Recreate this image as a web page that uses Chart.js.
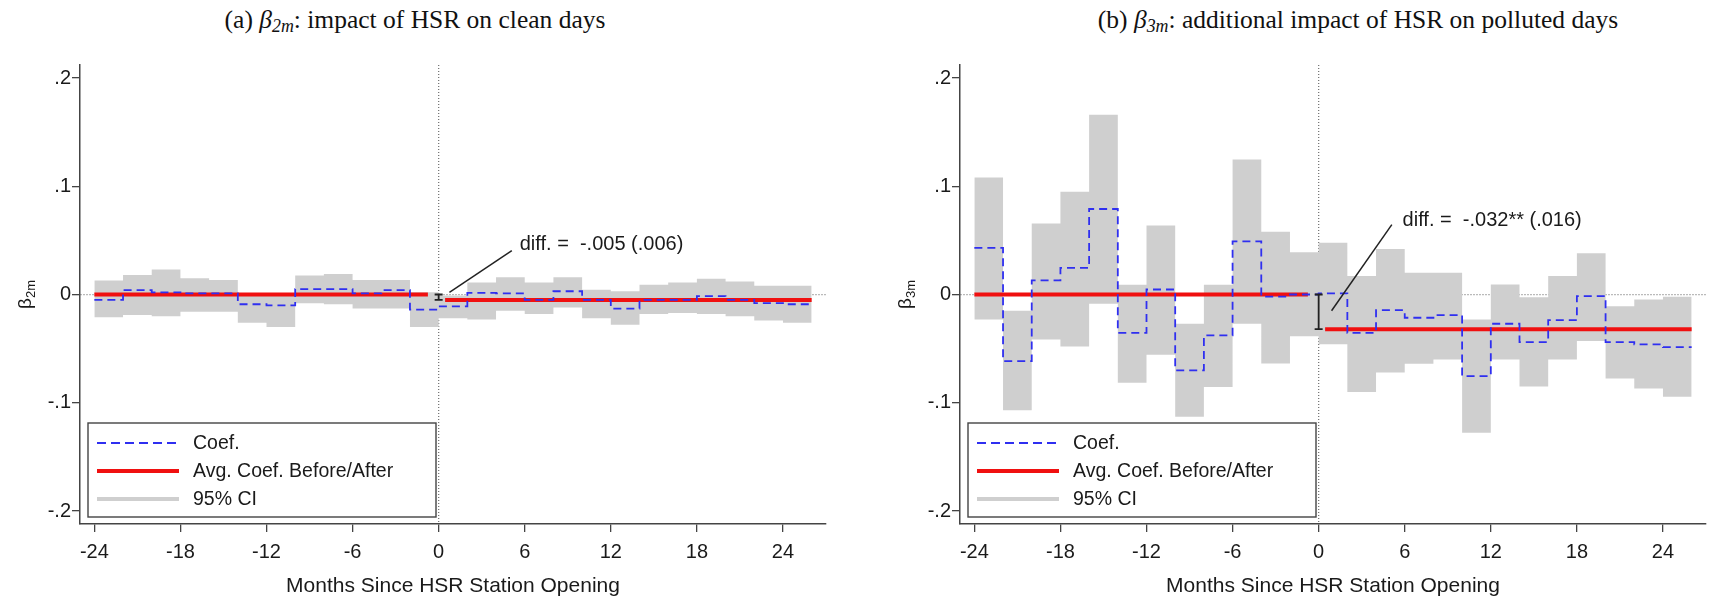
<!DOCTYPE html>
<html>
<head>
<meta charset="utf-8">
<script src="https://cdn.jsdelivr.net/npm/chart.js@4/dist/chart.umd.min.js"></script>
<style>
  body { margin: 0; background: #fff; width: 1711px; height: 601px; position: relative; overflow: hidden; }
  canvas { position: absolute; top: 0; }
  .ttl { position: absolute; top: 6px; transform: translateX(-50%); white-space: nowrap;
         font-family: "Liberation Serif", "Times New Roman", serif; font-size: 25.5px; line-height: 28px; color: #111; }
  .ttl sub { font-size: 70%; vertical-align: -4px; line-height: 0; }
</style>
</head>
<body>
<div class="ttl" style="left:415px">(a) <i>β</i><sub><i>2m</i></sub>: impact of HSR on clean days</div>
<div class="ttl" style="left:1358px">(b) <i>β</i><sub><i>3m</i></sub>: additional impact of HSR on polluted days</div>
<canvas id="chartA" width="860" height="601" style="left:0"></canvas>
<canvas id="chartB" width="831" height="601" style="left:880px"></canvas>
<script>
// bins are 2 months wide, value holds from binStart to next start
var binStart = [-24,-22,-20,-18,-16,-14,-12,-10,-8,-6,-4,-2,0,2,4,6,8,10,12,14,16,18,20,22,24];
var binEnd = 26;
var xTicks = [-24,-18,-12,-6,0,6,12,18,24];
var yTicks = [-0.2,-0.1,0,0.1,0.2];
var yTickLabels = ['-.2','-.1','0','.1','.2'];
var legendLabels = ['Coef.', 'Avg. Coef. Before/After', '95% CI'];

// (a) clean days
var coefClean = [-0.005,0.004,0.002,0.001,0.001,-0.009,-0.010,0.005,0.005,0.001,0.004,-0.014,
                 -0.011,0.0015,0.001,-0.005,0.003,-0.005,-0.013,-0.005,-0.005,-0.0015,-0.005,-0.008,-0.009];
var hiClean   = [0.013,0.018,0.023,0.015,0.0135,0.001,-0.001,0.0175,0.019,0.0135,0.0135,0.002,
                 -0.001,0.011,0.016,0.011,0.016,0.0045,0.003,0.009,0.011,0.0145,0.012,0.008,0.008];
var loClean   = [-0.021,-0.019,-0.020,-0.016,-0.016,-0.026,-0.030,-0.008,-0.009,-0.013,-0.013,-0.030,
                 -0.022,-0.023,-0.015,-0.018,-0.012,-0.022,-0.028,-0.018,-0.017,-0.018,-0.020,-0.024,-0.026];
var avgClean = [0, -0.005];
var diffClean = 'diff. =  -.005 (.006)';

// (b) polluted days
var coefPolluted = [0.043,-0.0615,0.013,0.0246,0.079,-0.0354,0.0046,-0.070,-0.0378,0.049,-0.002,0.0,
                    0.001,-0.0354,-0.0145,-0.0215,-0.019,-0.0754,-0.027,-0.044,-0.0237,-0.0015,-0.044,-0.046,-0.0486];
var hiPolluted   = [0.108,-0.015,0.0655,0.095,0.166,0.009,0.0637,-0.027,0.009,0.1246,0.058,0.039,
                    0.0477,0.017,0.042,0.020,0.020,-0.023,0.0092,-0.0025,0.017,0.038,-0.0108,-0.0046,-0.002];
var loPolluted   = [-0.023,-0.107,-0.0415,-0.048,-0.0086,-0.0815,-0.0557,-0.113,-0.0855,-0.027,-0.0637,-0.0385,
                    -0.046,-0.090,-0.072,-0.064,-0.060,-0.1277,-0.060,-0.085,-0.060,-0.043,-0.0775,-0.0868,-0.0945];
var avgPolluted = [0, -0.032];
var diffPolluted = 'diff. =  -.032** (.016)';

var avgBeforeSpan = [-24, -0.75];
var avgAfterSpan = [0.45, 26];

var FONT = '"Liberation Sans", Arial, sans-serif';
var INK = '#1a1a1a';
var BLUE = '#2f2ff0';
var RED = '#f01010';
var GREY = '#cfcfcf';

function steps(vals){
    var pts = binStart.map(function(x, i){ return {x: x, y: vals[i]}; });
    pts.push({x: binEnd, y: vals[vals.length - 1]});
    return pts;
}

function makePanel(id, coef, hi, lo, avg, diffText, sub, rightPad, ann){

    var yTitle = {
        id: 'yTitle',
        afterDraw: function(chart){
            var ctx = chart.ctx;
            var y = chart.scales.y.getPixelForValue(0);
            ctx.save();
            ctx.translate(26, y);
            ctx.rotate(-Math.PI/2);
            ctx.fillStyle = INK;
            ctx.textBaseline = 'middle';
            ctx.font = '19px ' + FONT;
            var w1 = ctx.measureText('β').width;
            ctx.font = '13px ' + FONT;
            var w2 = ctx.measureText(sub).width;
            var x0 = -(w1 + w2)/2;
            ctx.font = '19px ' + FONT;
            ctx.fillText('β', x0, 0);
            ctx.font = '13px ' + FONT;
            ctx.fillText(sub, x0 + w1, 5);
            ctx.restore();
        }
    };

    var diffMark = {
        id: 'diffMark',
        afterDatasetsDraw: function(chart){
            var ctx = chart.ctx, xs = chart.scales.x, ys = chart.scales.y;
            var px = xs.getPixelForValue(0);
            var y0 = ys.getPixelForValue(avg[0]), y1 = ys.getPixelForValue(avg[1]);
            ctx.save();
            ctx.strokeStyle = '#222';
            ctx.lineWidth = 1.8;
            ctx.beginPath();
            ctx.moveTo(px, y0); ctx.lineTo(px, y1);
            ctx.moveTo(px - 4, y0); ctx.lineTo(px + 4, y0);
            ctx.moveTo(px - 4, y1); ctx.lineTo(px + 4, y1);
            ctx.stroke();
            ctx.lineWidth = 1.5;
            ctx.beginPath();
            ctx.moveTo(xs.getPixelForValue(ann.from[0]), ys.getPixelForValue(ann.from[1]));
            ctx.lineTo(xs.getPixelForValue(ann.to[0]), ys.getPixelForValue(ann.to[1]));
            ctx.stroke();
            ctx.fillStyle = INK;
            ctx.font = '20px ' + FONT;
            ctx.textBaseline = 'middle';
            ctx.fillText(diffText, xs.getPixelForValue(ann.text[0]), ys.getPixelForValue(ann.text[1]));
            ctx.restore();
        }
    };

    var boxLegend = {
        id: 'boxLegend',
        afterDraw: function(chart){
            var ctx = chart.ctx, a = chart.chartArea;
            var bx = a.left + 8, by = a.bottom - 101, bw = 348, bh = 94;
            ctx.save();
            ctx.fillStyle = '#fff';
            ctx.fillRect(bx, by, bw, bh);
            ctx.strokeStyle = '#444';
            ctx.lineWidth = 1.4;
            ctx.strokeRect(bx, by, bw, bh);
            var styles = [
                {c: BLUE, w: 2, d: [9, 5]},
                {c: RED, w: 4, d: []},
                {c: GREY, w: 4, d: []}
            ];
            ctx.font = '19.5px ' + FONT;
            ctx.textBaseline = 'middle';
            legendLabels.forEach(function(lab, i){
                var ry = by + 20 + i * 28;
                ctx.strokeStyle = styles[i].c;
                ctx.lineWidth = styles[i].w;
                ctx.setLineDash(styles[i].d);
                ctx.beginPath();
                ctx.moveTo(bx + 9, ry); ctx.lineTo(bx + 91, ry);
                ctx.stroke();
                ctx.setLineDash([]);
                ctx.fillStyle = INK;
                ctx.fillText(lab, bx + 105, ry + 1);
            });
            ctx.restore();
        }
    };

    var ctx = document.getElementById(id).getContext('2d');
    return new Chart(ctx, {
        type: 'line',
        data: {
            datasets: [{
                label: 'ci hi',
                data: steps(hi),
                stepped: 'before',
                borderWidth: 0,
                borderColor: 'rgba(0,0,0,0)',
                backgroundColor: GREY,
                fill: '+1',
                order: 3
            }, {
                label: 'ci lo',
                data: steps(lo),
                stepped: 'before',
                borderWidth: 0,
                borderColor: 'rgba(0,0,0,0)',
                fill: false,
                order: 3
            }, {
                label: legendLabels[1] + ' before',
                data: [{x: avgBeforeSpan[0], y: avg[0]}, {x: avgBeforeSpan[1], y: avg[0]}],
                borderColor: RED,
                borderWidth: 4,
                fill: false,
                order: 2
            }, {
                label: legendLabels[1] + ' after',
                data: [{x: avgAfterSpan[0], y: avg[1]}, {x: avgAfterSpan[1], y: avg[1]}],
                borderColor: RED,
                borderWidth: 4,
                fill: false,
                order: 2
            }, {
                label: legendLabels[0],
                data: steps(coef),
                stepped: 'before',
                borderColor: BLUE,
                borderWidth: 1.8,
                borderDash: [8, 5],
                fill: false,
                order: 1
            }]
        },
        options: {
            responsive: false,
            devicePixelRatio: 1,
            animation: false,
            layout: { padding: { top: 65, right: rightPad, left: 0, bottom: 0 } },
            elements: { point: { radius: 0 }, line: { tension: 0 } },
            plugins: { legend: { display: false }, tooltip: { enabled: false } },
            scales: {
                x: {
                    type: 'linear',
                    min: -25, max: 27,
                    afterBuildTicks: function(s){ s.ticks = xTicks.map(function(v){ return {value: v}; }); },
                    afterFit: function(s){ s.height = 77; },
                    ticks: { font: { family: FONT, size: 20 }, color: INK, padding: 8, maxRotation: 0 },
                    grid: {
                        color: function(c){ return c.tick && c.tick.value === 0 ? '#777' : 'rgba(0,0,0,0)'; },
                        lineWidth: 1.3,
                        tickColor: '#444', tickLength: 8, tickWidth: 1.3
                    },
                    border: { display: true, color: '#444', width: 1.5, dash: [1, 2] },
                    title: { display: true, text: 'Months Since HSR Station Opening',
                             font: { family: FONT, size: 21 }, color: INK, padding: { top: 0, bottom: 2 } }
                },
                y: {
                    min: -0.212, max: 0.212,
                    afterBuildTicks: function(s){ s.ticks = yTicks.map(function(v){ return {value: v}; }); },
                    afterFit: function(s){ s.width = 80; },
                    ticks: {
                        font: { family: FONT, size: 20 }, color: INK, padding: 1,
                        callback: function(v){ return yTickLabels[yTicks.indexOf(v)]; }
                    },
                    grid: {
                        color: function(c){ return c.tick && c.tick.value === 0 ? '#777' : 'rgba(0,0,0,0)'; },
                        lineWidth: 1.3,
                        tickColor: '#444', tickLength: 8, tickWidth: 1.3
                    },
                    border: { display: true, color: '#444', width: 1.5, dash: [1, 2] }
                }
            }
        },
        plugins: [yTitle, diffMark, boxLegend]
    });
}

makePanel('chartA', coefClean, hiClean, loClean, avgClean, diffClean, '2m', 34,
          { from: [0.75, 0.002], to: [5.1, 0.0405], text: [5.65, 0.046] });
makePanel('chartB', coefPolluted, hiPolluted, loPolluted, avgPolluted, diffPolluted, '3m', 5,
          { from: [0.9, -0.015], to: [5.1, 0.0645], text: [5.85, 0.068] });
</script>
</body>
</html>
